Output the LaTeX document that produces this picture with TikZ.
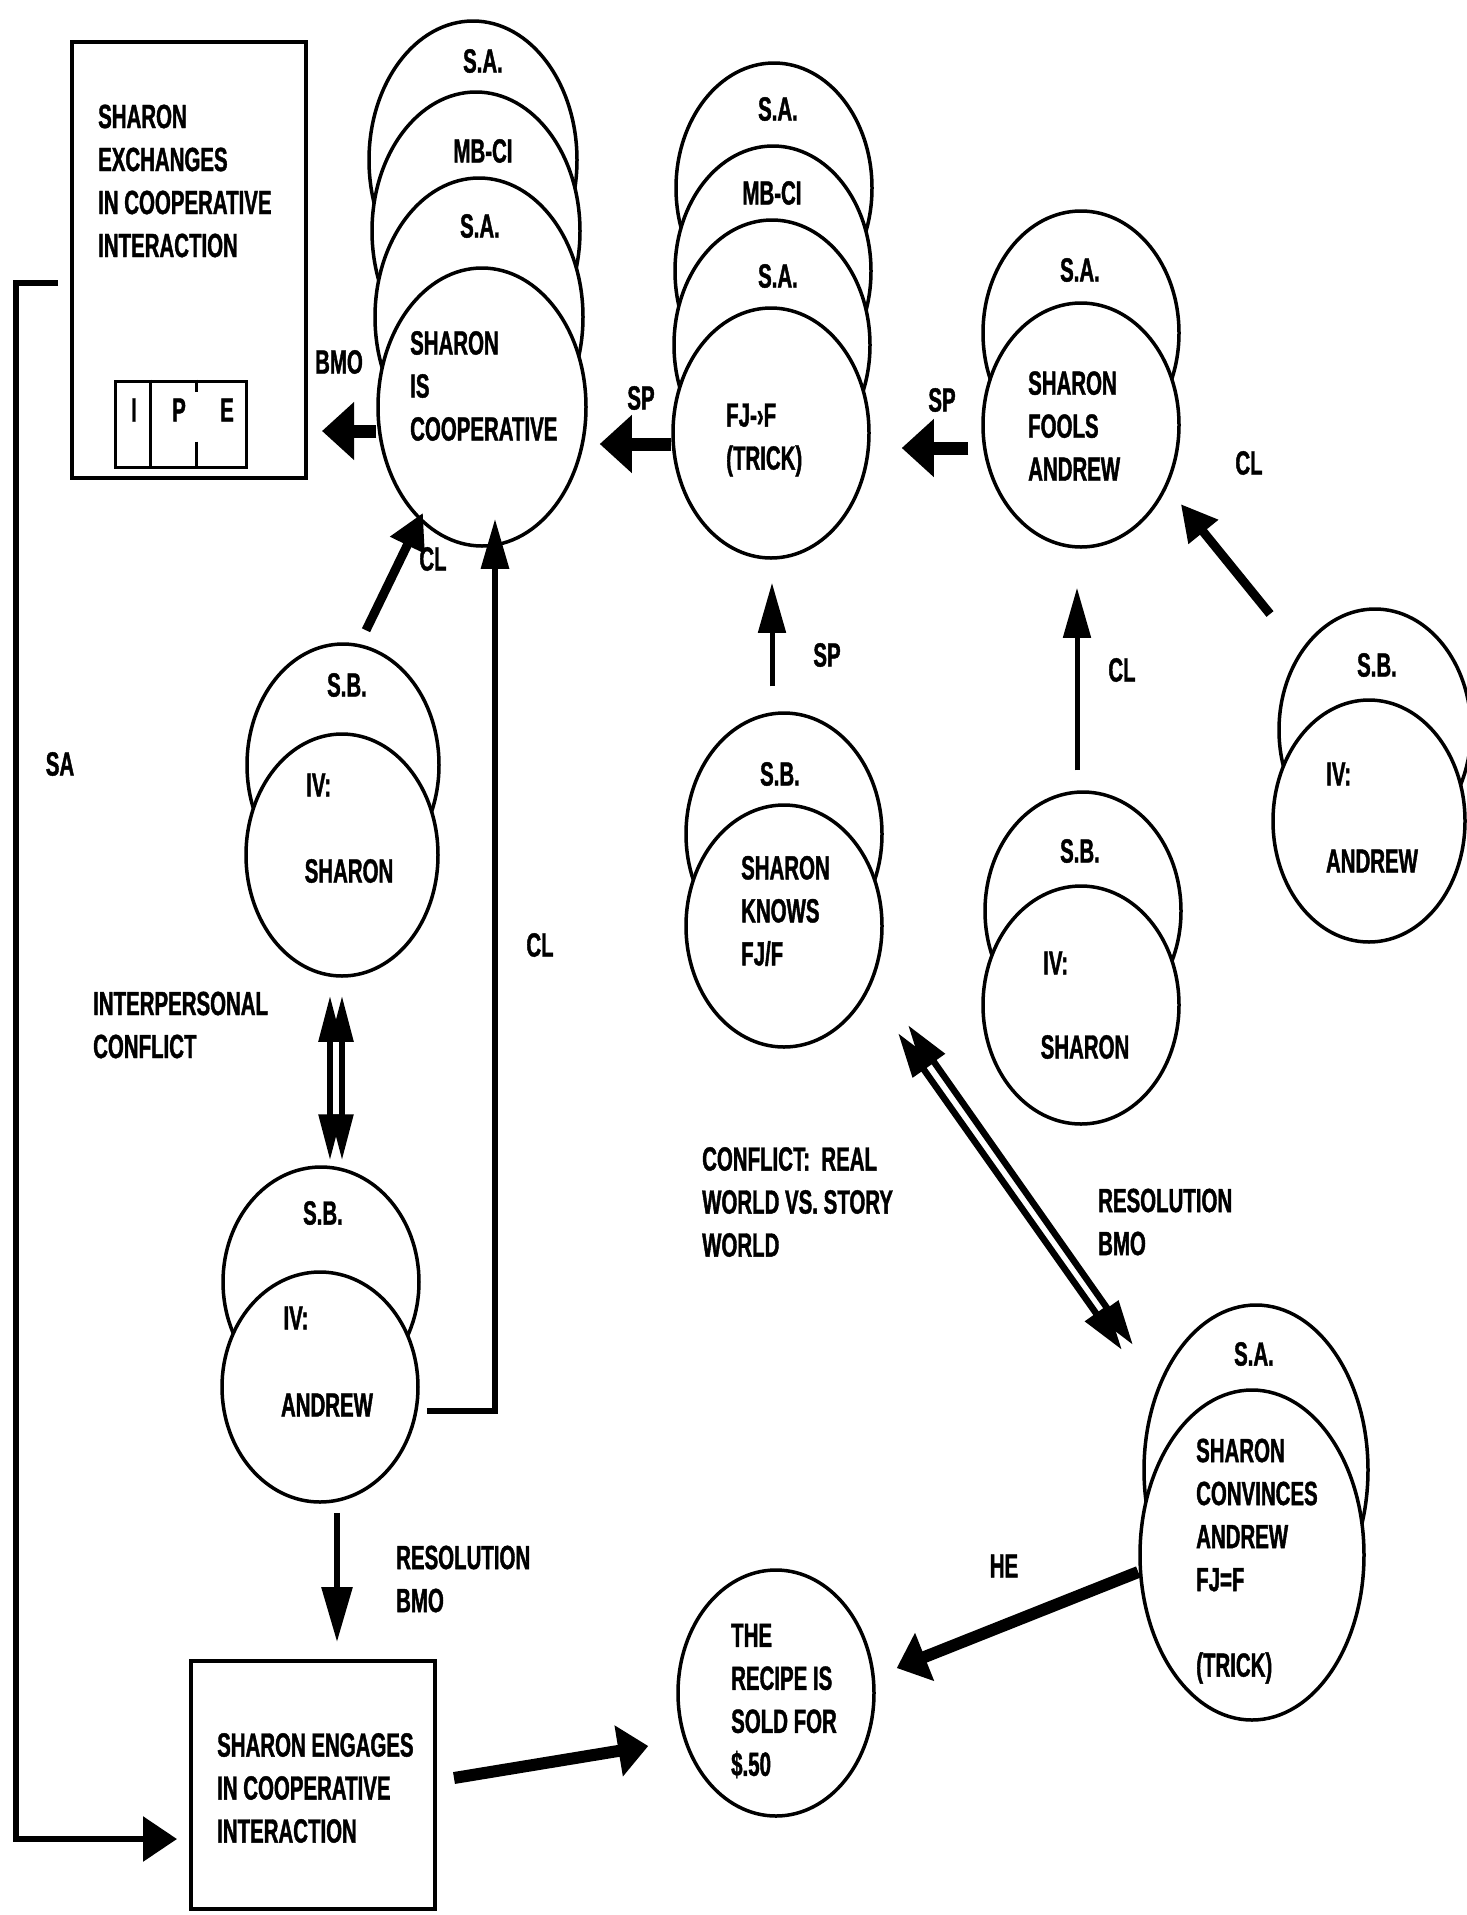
\documentclass[tikz,border=0pt]{standalone}
\usepackage{fontspec}
\newfontfamily\labfont{Liberation Sans Bold}[FakeStretch=0.61,FakeBold=1.2]
\usetikzlibrary{shapes.geometric,arrows.meta}
\begin{document}
\begin{tikzpicture}[x=1pt,y=-1pt,
  ell/.style={ellipse,draw,fill=white,line width=3.5pt,inner sep=0pt},
  txt/.style={font={\labfont\fontsize{33.5}{43}\selectfont},inner sep=0pt},
  blk/.style={txt,align=left,anchor=west},
  fat/.style={line width=13pt,-{Triangle[length=32pt,width=56pt]}},
  slim/.style={line width=5pt,-{Triangle[length=50pt,width=27pt]}},
  midarr/.style={line width=9pt,-{Triangle[length=36pt,width=36pt]}},
  thin/.style={line width=6pt,-{Triangle[length=34pt,width=44pt]}},
  dbl/.style={line width=6.5pt,{Triangle[length=45pt,width=26pt]}-{Triangle[length=45pt,width=26pt]}},
  boxst/.style={draw,line width=4pt,inner sep=0pt}
]
\useasboundingbox (0,0) rectangle (1467,1915);

% boxes
\node[boxst,minimum width=234pt,minimum height=436pt] (box1) at (189,260) {};
\node[boxst,minimum width=244pt,minimum height=248pt] (box2) at (313,1785) {};
\node[boxst,line width=3pt,minimum width=131pt,minimum height=86pt] (ipe) at (180.5,424) {};
\draw[line width=3pt] (ipe.north west) ++(37,0) coordinate (d1) -- (d1 |- ipe.south);
\draw[line width=2.5pt] ([xshift=16pt]ipe.north) -- ++(0,12);
\draw[line width=2.5pt] ([xshift=16pt,yshift=27pt]ipe.south) -- ([xshift=16pt]ipe.south);

% stack 1
\node[ell,minimum width=208pt,minimum height=278pt] (s1a) at (473,160) {};
\node[ell,minimum width=208pt,minimum height=278pt] (s1b) at (476,231) {};
\node[ell,minimum width=208pt,minimum height=278pt] (s1c) at (479,317) {};
\node[ell,minimum width=208pt,minimum height=278pt] (s1d) at (482,407) {};
% stack 2
\node[ell,minimum width=196pt,minimum height=250pt] (s2a) at (774,188) {};
\node[ell,minimum width=196pt,minimum height=250pt] (s2b) at (773,271) {};
\node[ell,minimum width=196pt,minimum height=250pt] (s2c) at (772,345) {};
\node[ell,minimum width=196pt,minimum height=250pt] (s2d) at (771,433) {};
% stack 3
\node[ell,minimum width=196pt,minimum height=244pt] (s3a) at (1081,333) {};
\node[ell,minimum width=196pt,minimum height=244pt] (s3b) at (1081,425) {};
% stack 9 (IV: ANDREW right)
\node[ell,minimum width=192pt,minimum height=242pt] (s9a) at (1375,730) {};
\node[ell,minimum width=192pt,minimum height=242pt] (s9b) at (1369,821) {};
% stack 7
\node[ell,minimum width=196pt,minimum height=242pt] (s7a) at (784,834) {};
\node[ell,minimum width=196pt,minimum height=242pt] (s7b) at (784,926) {};
% stack 8
\node[ell,minimum width=196pt,minimum height=238pt] (s8a) at (1083,911) {};
\node[ell,minimum width=196pt,minimum height=238pt] (s8b) at (1081,1005) {};
% stack 4
\node[ell,minimum width=192pt,minimum height=242pt] (s4a) at (343,765) {};
\node[ell,minimum width=192pt,minimum height=242pt] (s4b) at (342,855) {};
% stack 5
\node[ell,minimum width=196pt,minimum height=230pt] (s5a) at (321,1282) {};
\node[ell,minimum width=196pt,minimum height=230pt] (s5b) at (320,1387) {};
% recipe
\node[ell,minimum width=196pt,minimum height=246pt] (rec) at (776,1693) {};
% stack 6
\node[ell,minimum width=224pt,minimum height=330pt] (s6a) at (1256,1470) {};
\node[ell,minimum width=224pt,minimum height=330pt] (s6b) at (1252,1555) {};

% texts
\node[blk] (t1) at (98,181) {SHARON\\EXCHANGES\\IN COOPERATIVE\\INTERACTION};
\node[txt] (tI) at (134,410) {I};
\node[txt] (tP) at (179,410) {P};
\node[txt] (tE) at (227,410) {E};

\node[txt] (l1a) at (483,61) {S.A.};
\node[txt] (l1b) at (483,151) {MB-CI};
\node[txt] (l1c) at (480,226) {S.A.};
\node[blk] (l1d) at (410,386) {SHARON\\IS\\COOPERATIVE};

\node[txt] (l2a) at (778,109) {S.A.};
\node[txt] (l2b) at (772,193) {MB-CI};
\node[txt] (l2c) at (778,276) {S.A.};
\node[blk] (l2d) at (726,440) {FJ-›F\\(TRICK)};

\node[txt] (l3a) at (1080,270) {S.A.};
\node[blk] (l3b) at (1028,426) {SHARON\\FOOLS\\ANDREW};

\node[txt] (l9a) at (1377,665) {S.B.};
\node[blk] (l9b) at (1326,774) {IV:};
\node[txt] (l9c) at (1372,861) {ANDREW};

\node[txt] (l7a) at (780,774) {S.B.};
\node[blk] (l7b) at (741,911) {SHARON\\KNOWS\\FJ/F};

\node[txt] (l8a) at (1080,851) {S.B.};
\node[blk] (l8b) at (1043,963) {IV:};
\node[txt] (l8c) at (1085,1047) {SHARON};

\node[txt] (l4a) at (347,685) {S.B.};
\node[blk] (l4b) at (306,785) {IV:};
\node[txt] (l4c) at (349,871) {SHARON};

\node[txt] (l5a) at (323,1213) {S.B.};
\node[txt] (l5b) at (296,1318) {IV:};
\node[txt] (l5c) at (327,1405) {ANDREW};

\node[blk] (lr) at (731,1701) {THE\\RECIPE IS\\SOLD FOR\\\$.50};

\node[txt] (l6a) at (1254,1354) {S.A.};
\node[blk] (l6b) at (1196,1515) {SHARON\\CONVINCES\\ANDREW\\FJ=F};
\node[blk] (l6c) at (1196,1668) {(TRICK)};

\node[blk] (t2) at (217,1788) {SHARON ENGAGES\\IN COOPERATIVE\\INTERACTION};

% edge labels
\node[txt] (eBMO) at (339,362) {BMO};
\node[txt] (eSP1) at (641,398) {SP};
\node[txt] (eSP2) at (942,400) {SP};
\node[txt] (eCL1) at (1249,463) {CL};
\node[txt] (eCL2) at (433,559) {CL};
\node[txt] (eSP3) at (827,655) {SP};
\node[txt] (eCL3) at (1122,670) {CL};
\node[txt] (eSA) at (60,764) {SA};
\node[txt] (eCL4) at (540,945) {CL};
\node[blk] (eIC) at (93,1025) {INTERPERSONAL\\CONFLICT};
\node[blk] (eCR) at (702,1202) {CONFLICT:\ \ REAL\\WORLD VS. STORY\\WORLD};
\node[blk] (eRB1) at (1098,1222) {RESOLUTION\\BMO};
\node[blk] (eRB2) at (396,1579) {RESOLUTION\\BMO};
\node[txt] (eHE) at (1004,1566) {HE};

% connectors
\draw[fat] ([yshift=-24pt]s1d.west) -- ([xshift=14pt,yshift=-171pt]box1.east);
\draw[fat] ([yshift=-11pt]s2d.west) -- ([xshift=12pt,yshift=-37pt]s1d.east);
\draw[fat] ([xshift=-13pt,yshift=-23pt]s3b.west) -- ([xshift=31pt,yshift=-15pt]s2d.east);
\draw[midarr] ([xshift=-105pt,yshift=116pt]s9a.center) -- ([yshift=-79pt]s3b.east);
\draw[slim] ([xshift=-12pt,yshift=25pt]s7a.north) -- ([xshift=1pt,yshift=-23pt]s2d.south);
\draw[slim] ([xshift=-6pt,yshift=20pt]s8a.north) -- ([xshift=-4pt,yshift=-39pt]s3b.south);
\draw[midarr] ([xshift=23pt,yshift=12pt]s4a.north) -- ([xshift=-59pt,yshift=35pt]s1d.south);
\draw[slim,line width=6pt] ([xshift=7pt,yshift=-24pt]s5b.east) -| ([xshift=13pt,yshift=29pt]s1d.south);
\draw[slim,line width=6pt,-{Triangle[length=55pt,width=30pt]}] ([xshift=17pt,yshift=-9pt]s5b.south) -- ([xshift=24pt,yshift=17pt]box2.north);
\draw[thin] ([xshift=-12pt,yshift=-23pt]box1.west) -- ++(-42,0) |- ([xshift=-12pt,yshift=-54pt]box2.west);
\draw[fat,line width=12pt,-{Triangle[length=30pt,width=50pt]}] ([xshift=17pt,yshift=7pt]box2.east) -- ([xshift=-28pt,yshift=-53pt]rec.west);
\draw[fat,line width=12pt,-{Triangle[length=30pt,width=50pt]}] ([yshift=-17pt]s6b.west) -- ([xshift=21pt,yshift=25pt]rec.east);
\draw[dbl,line width=5.5pt,{Triangle[length=46pt,width=22pt]}-{Triangle[length=46pt,width=22pt]}] ([xshift=-12pt,yshift=-18pt]s4b.south) -- ([xshift=9pt,yshift=5pt]s5a.north);
\draw[dbl,line width=5.5pt,{Triangle[length=46pt,width=22pt]}-{Triangle[length=46pt,width=22pt]}] ([yshift=-18pt]s4b.south) -- ([xshift=21pt,yshift=5pt]s5a.north);
\draw[dbl] ([xshift=124pt,yshift=-99pt]s7b.center) -- ([xshift=-123pt,yshift=125pt]s6a.center);
\draw[dbl] ([xshift=114pt,yshift=-107pt]s7b.center) -- ([xshift=-134pt,yshift=120pt]s6a.center);
\end{tikzpicture}
\end{document}
